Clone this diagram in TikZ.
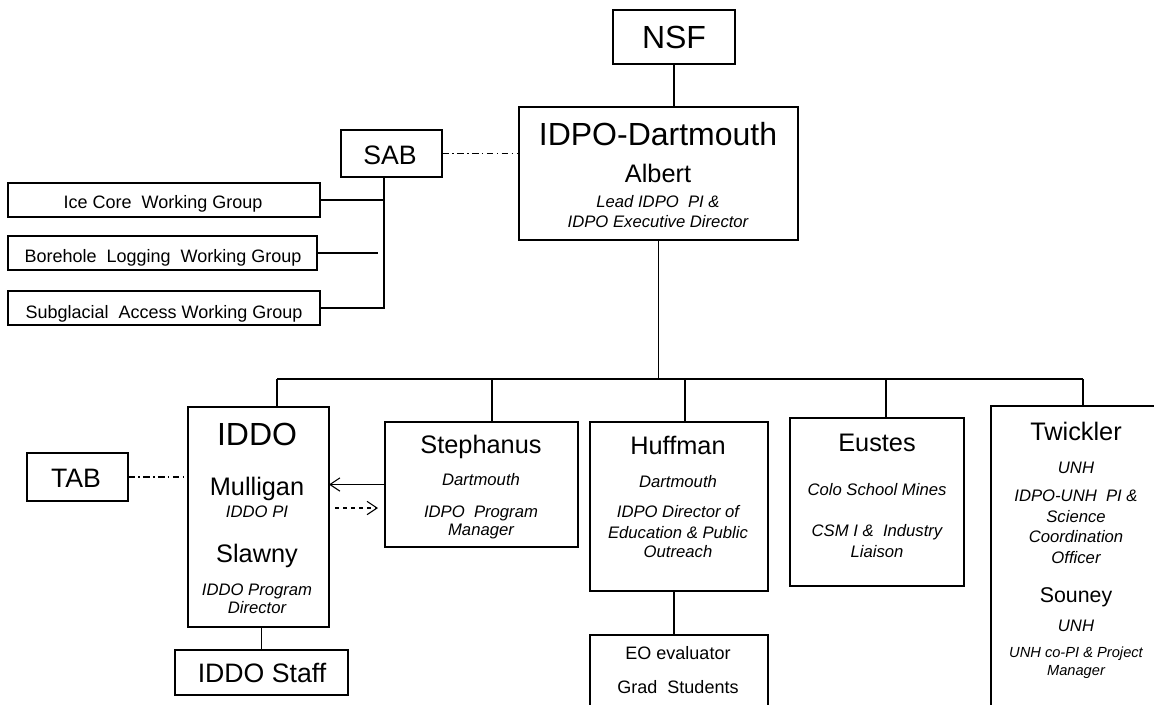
\documentclass[tikz,border=0pt]{standalone}
\usepackage{fontspec}
\setmainfont{Liberation Sans}
\usetikzlibrary{arrows.meta}

\begin{document}
\begin{tikzpicture}[x=0.75pt, y=-0.75pt,
    box/.style={draw, line width=1pt, inner sep=0pt, outer sep=0pt},
    txt/.style={anchor=base, inner sep=0pt},
    head/.style={txt, font=\fontsize{24}{28}\selectfont},
    who/.style={txt, font=\fontsize{19}{22}\selectfont},
    role/.style={txt, font=\fontsize{12.5}{15}\selectfont\itshape},
    wg/.style={txt, font=\fontsize{13.5}{16}\selectfont},
    link/.style={line width=0.8pt},
    dashdot/.style={line width=0.8pt, dash pattern=on 5pt off 2.5pt on 1.2pt off 2.5pt},
    barb/.style={-{Straight Barb[length=7.5pt,width=10pt]}}]

  \useasboundingbox (0,0) rectangle (1154,704);
  \clip (0,0) rectangle (1154,704);

  % Top
  \node[box, minimum width=91.5pt, minimum height=40.5pt] (nsf) at (674,37) {};
  \node[head] (nsf-t) at (674,48) {NSF};

  \node[box, minimum width=209.25pt, minimum height=99.75pt] (idpo) at (658.5,173.5) {};
  \node[head] (idpo-t) at (658,145) {IDPO-Dartmouth};
  \node[who] (idpo-n) at (658,182) {Albert};
  \node[role] (idpo-r1) at (658,207) {Lead IDPO\ \ PI \&};
  \node[role] (idpo-r2) at (658,227) {IDPO Executive Director};

  % Science advisory board
  \node[box, minimum width=75.75pt, minimum height=35.25pt] (sab) at (391.5,153.5) {};
  \node[who, font=\fontsize{20}{22}\selectfont] (sab-t) at (390,164) {SAB};

  \node[box, minimum width=234pt, minimum height=25.5pt] (ice) at (164,200) {};
  \node[wg] (ice-t) at (163,208) {Ice Core\ \ Working Group};
  \node[box, minimum width=231.75pt, minimum height=25.5pt] (bore) at (162.5,253) {};
  \node[wg] (bore-t) at (163,262) {Borehole\ \ Logging\ \ Working Group};
  \node[box, minimum width=234pt, minimum height=25.5pt] (sub) at (164,308) {};
  \node[wg] (sub-t) at (164,318) {Subglacial\ \ Access Working Group};

  % IDDO
  \node[box, minimum width=105.75pt, minimum height=165pt] (iddo) at (258.5,517) {};
  \node[head] (iddo-t) at (257,445) {IDDO};
  \node[who] (iddo-n1) at (257,495) {Mulligan};
  \node[role] (iddo-r1) at (257,517) {IDDO PI};
  \node[who] (iddo-n2) at (257,562) {Slawny};
  \node[role] (iddo-r2) at (257,595) {IDDO Program};
  \node[role] (iddo-r3) at (257,613) {Director};

  \node[box, minimum width=75.75pt, minimum height=36pt] (tab) at (77.5,477) {};
  \node[who, font=\fontsize{20}{22}\selectfont] (tab-t) at (76,487) {TAB};

  \node[box, minimum width=129.75pt, minimum height=33.75pt] (staff) at (261.5,672.5) {};
  \node[who, font=\fontsize{20}{22}\selectfont] (staff-t) at (262,682) {IDDO Staff};

  % Stephanus
  \node[box, minimum width=144.75pt, minimum height=93.75pt] (steph) at (481.5,484.5) {};
  \node[who] (steph-n) at (481,453) {Stephanus};
  \node[role] (steph-r1) at (481,485) {Dartmouth};
  \node[role] (steph-r2) at (481,517) {IDPO\ \ Program};
  \node[role] (steph-r3) at (481,535) {Manager};

  % Huffman
  \node[box, minimum width=133.5pt, minimum height=126.75pt] (huff) at (679,506.5) {};
  \node[who] (huff-n) at (678,454) {Huffman};
  \node[role] (huff-r1) at (678,487) {Dartmouth};
  \node[role] (huff-r2) at (678,517) {IDPO Director of};
  \node[role] (huff-r3) at (678,538) {Education \& Public};
  \node[role] (huff-r4) at (678,557) {Outreach};

  \node[box, minimum width=133.5pt, minimum height=63.75pt] (eo) at (679,677.5) {};
  \node[wg] (eo-t1) at (678,659) {EO evaluator};
  \node[wg] (eo-t2) at (678,693) {Grad\ \ Students};

  % Eustes
  \node[box, minimum width=130.5pt, minimum height=126pt] (eust) at (877,502) {};
  \node[who] (eust-n) at (877,451) {Eustes};
  \node[role] (eust-r1) at (877,495) {Colo School Mines};
  \node[role] (eust-r2) at (877,536) {CSM I \&\ \ Industry};
  \node[role] (eust-r3) at (877,557) {Liaison};

  % Twickler
  \node[box, minimum width=126.75pt, minimum height=235.5pt] (twick) at (1075.5,563) {};
  \node[who] (twick-n1) at (1076,440) {Twickler};
  \node[role] (twick-r1) at (1076,473) {UNH};
  \node[role] (twick-r2) at (1076,501) {IDPO-UNH\ \ PI \&};
  \node[role] (twick-r3) at (1076,522) {Science};
  \node[role] (twick-r4) at (1076,542) {Coordination};
  \node[role] (twick-r5) at (1076,563) {Officer};
  \node[who, font=\fontsize{16}{19}\selectfont] (twick-n2) at (1076,602) {Souney};
  \node[role] (twick-r6) at (1076,631) {UNH};
  \node[role, font=\fontsize{11}{13}\selectfont\itshape] (twick-r7) at (1076,657) {UNH co-PI \& Project};
  \node[role, font=\fontsize{11}{13}\selectfont\itshape] (twick-r8) at (1076,675) {Manager};

  % Lines
  \coordinate (sabx) at (384,0);
  \coordinate (boreend) at (378,253);
  \coordinate (busL) at (277,379);
  \coordinate (busR) at (1083,379);
  \coordinate (b2) at (492,379);
  \coordinate (b3) at (685,379);
  \coordinate (b4) at (886,379);
  \coordinate (da1) at (335,508);
  \coordinate (da2) at (378,508);

  \draw[link] (nsf.south) -- (nsf.south |- idpo.north);
  \draw[link] (idpo.south) -- (idpo.south |- busL);
  \draw[link] (busL) -- (busR);
  \draw[link] (busL) -- (busL |- iddo.north);
  \draw[link] (b2) -- (b2 |- steph.north);
  \draw[link] (b3) -- (b3 |- huff.north);
  \draw[link] (b4) -- (b4 |- eust.north);
  \draw[link] (busR) -- (busR |- twick.north);

  \draw[link] (sabx |- sab.south) -- (sabx |- sub.east) -- (sub.east);
  \draw[link] (ice.east) -- (ice.east -| sabx);
  \draw[link] (bore.east) -- (boreend);
  \draw[dashdot] (sab.east) -- (sab.east -| idpo.west);

  \draw[dashdot] (tab.east) -- (tab.east -| iddo.west);
  \draw[link] (staff.north) -- (staff.north |- iddo.south);
  \draw[link] ([xshift=-3.75pt]eo.north) -- ([xshift=-3.75pt]eo.north |- huff.south);

  \draw[link,barb] (steph.west) -- (steph.west -| iddo.east);
  \draw[link,barb,dashed] (da1) -- (da2);

\end{tikzpicture}
\end{document}
